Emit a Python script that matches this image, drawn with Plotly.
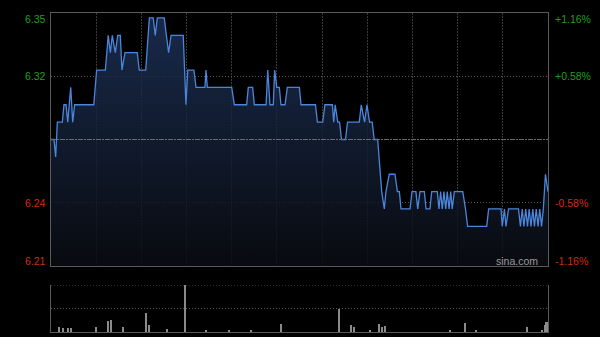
import plotly.graph_objects as go

# ---------------- data ----------------
prev_close = 6.28
pct_levels = [1.16, 0.58, -0.58, -1.16]
price_tick_labels = ["6.35", "6.32", "6.24", "6.21"]
pct_tick_labels = ["+1.16%", "+0.58%", "-0.58%", "-1.16%"]

# minutes since 09:30 (lunch break removed, 330 trading minutes)
minutes = [
    0, 2.0, 3.1, 4.2, 7.5, 8.6, 10.0, 11.1, 13.1, 14.4, 15.7, 28.4, 30.3, 36.1,
    38.0, 39.4, 40.7, 42.7, 44.3, 46.0, 47.1, 49.1, 57.3, 58.6, 62.9, 65.3, 67.9,
    69.2, 70.6, 75.2, 76.6, 78.1, 79.7, 87.8, 89.6, 90.8, 94.9, 96.3, 102.2,
    102.9, 103.8, 120.0, 121.7, 129.9, 131.0, 133.9, 135.0, 142.8, 143.9, 145.4,
    147.6, 148.5, 149.9, 151.6, 152.7, 155.4, 156.9, 164.9, 166.0, 175.6, 176.9,
    180.4, 181.9, 186.8, 187.7, 188.7, 190.4, 191.6, 192.9, 195.5, 196.9, 204.7,
    206.0, 208.2, 209.8, 211.5, 213.3, 214.6, 216.9, 219.6, 221.3, 222.4, 224.6,
    228.4, 230.0, 231.3, 232.4, 238.4, 239.7, 242.3, 243.5, 245.0, 247.9, 249.0,
    251.6, 252.8, 256.5, 257.6, 258.7, 259.8, 260.9, 262.1, 263.1, 264.3, 265.4,
    266.4, 267.8, 273.4, 275.2, 276.6, 289.3, 290.6, 298.8, 299.6, 301.1, 302.1,
    303.8, 310.4, 311.7, 312.9, 314.0, 315.2, 316.4, 317.5, 318.7, 319.9, 321.0,
    322.2, 323.4, 324.5, 325.7, 326.9, 328.3, 330,
]
prices = [
    6.28, 6.28, 6.27, 6.29, 6.29, 6.30, 6.30, 6.29, 6.31, 6.29, 6.30, 6.30, 6.32, 6.32,
    6.34, 6.33, 6.34, 6.33, 6.34, 6.34, 6.32, 6.33, 6.33, 6.32, 6.32, 6.35, 6.35,
    6.34, 6.35, 6.35, 6.34, 6.33, 6.34, 6.34, 6.30, 6.32, 6.32, 6.31, 6.31,
    6.32, 6.31, 6.31, 6.30, 6.30, 6.31, 6.31, 6.30, 6.30, 6.32, 6.30,
    6.30, 6.32, 6.31, 6.31, 6.30, 6.30, 6.31, 6.31, 6.30, 6.30, 6.29,
    6.29, 6.30, 6.30, 6.29, 6.30, 6.29, 6.29, 6.28, 6.28, 6.29, 6.29,
    6.30, 6.29, 6.30, 6.29, 6.29, 6.28, 6.28, 6.25, 6.24, 6.25, 6.26,
    6.26, 6.25, 6.25, 6.24, 6.24, 6.25, 6.25, 6.24, 6.25, 6.25, 6.24,
    6.24, 6.25, 6.25, 6.24, 6.25, 6.24, 6.25, 6.24, 6.25, 6.24, 6.25,
    6.24, 6.25, 6.25, 6.24, 6.23, 6.23, 6.24, 6.24, 6.23, 6.24, 6.23,
    6.24, 6.24, 6.23, 6.24, 6.23, 6.24, 6.23, 6.24, 6.23, 6.24, 6.23,
    6.24, 6.23, 6.24, 6.23, 6.24, 6.26, 6.25,
]
assert len(minutes) == len(prices)

vol_minutes = [5, 8, 11, 13, 30, 38, 40, 48, 63, 65, 77, 89, 103, 118, 133, 153,
               191, 199, 201, 212, 218, 220, 222, 265, 275, 282, 316, 326,
               328, 329, 330]
vol_values = [50, 40, 45, 40, 50, 110, 120, 50, 190, 75, 35, 470, 20, 20, 20, 80,
              230, 70, 55, 20, 80, 50, 65, 20, 95, 20, 50, 20,
              70, 100, 100]

session_minutes = 330
grid_step = 30

# ---------------- derived ----------------
top = prev_close * (1 + pct_levels[0] / 100)
bot = prev_close * (1 + pct_levels[-1] / 100)
levels = [prev_close * (1 + p / 100) for p in pct_levels]
vmax = max(vol_values)

GREEN = "#1f9f1f"
RED = "#d42a0c"
FONT = "Liberation Sans, Arial, sans-serif"

x_dom = [51 / 600, 548 / 600]

fig = go.Figure()

fig.add_trace(go.Scatter(
    x=minutes, y=prices, mode="lines",
    line=dict(color="#4a86dc", width=1.3),
    fill="tozeroy",
    fillgradient=dict(type="vertical", start=bot, stop=top,
                      colorscale=[[0, "rgba(10,12,18,0.85)"], [1, "rgba(30,52,92,0.8)"]]),
    hoverinfo="skip", xaxis="x", yaxis="y",
))

fig.add_trace(go.Bar(
    x=vol_minutes, y=vol_values, width=0.7,
    marker=dict(color="#8a8a8a", line=dict(width=0)),
    xaxis="x2", yaxis="y2", hoverinfo="skip",
))

fig.update_layout(
    width=600, height=337,
    margin=dict(l=0, r=0, t=0, b=0),
    paper_bgcolor="#000000", plot_bgcolor="#000000",
    showlegend=False,
    xaxis=dict(domain=x_dom, range=[0, session_minutes], tick0=0, dtick=grid_step,
               showgrid=True, gridcolor="#3a3a3a", griddash="2px,1px", gridwidth=1,
               showticklabels=False, ticks="", zeroline=False,
               showline=True, linecolor="#5a5a5a", linewidth=1, mirror=True,
               fixedrange=True),
    yaxis=dict(domain=[1 - 266 / 337, 1 - 13 / 337], range=[bot, top],
               tickvals=[levels[1], levels[2]],
               showgrid=True, gridcolor="#5a5a5a", griddash="1px,2px", gridwidth=1,
               showticklabels=False, ticks="", zeroline=False,
               showline=True, linecolor="#5a5a5a", linewidth=1, mirror=True,
               fixedrange=True),
    xaxis2=dict(domain=x_dom, range=[0, session_minutes], anchor="y2",
                showgrid=False, showticklabels=False, ticks="", zeroline=False,
                showline=True, linecolor="#5a5a5a", linewidth=1, fixedrange=True),
    yaxis2=dict(domain=[1 - 332 / 337, 1 - 285 / 337], range=[0, vmax], anchor="x2",
                tickvals=[vmax / 2, vmax],
                showgrid=True, gridcolor="#5a5a5a", griddash="1px,2px", gridwidth=1,
                showticklabels=False, ticks="", zeroline=False,
                showline=True, linecolor="#5a5a5a", linewidth=1, mirror=True,
                fixedrange=True),
    bargap=0,
)

# previous-close midline
fig.add_shape(type="line", xref="x", yref="y", x0=0, x1=session_minutes,
              y0=prev_close, y1=prev_close,
              line=dict(color="#6a6a6a", width=1, dash="5px,1px,2px,1px"))

# volume panel top dotted line (at max)
fig.add_shape(type="line", xref="x2", yref="y2", x0=0, x1=session_minutes,
              y0=vmax, y1=vmax, line=dict(color="#5a5a5a", width=1, dash="1px,2px"))

shifts = [-5.5, 0, 0, 5.5]
for lvl, ptxt, ctxt, pct, sh in zip(levels, price_tick_labels, pct_tick_labels, pct_levels, shifts):
    col = GREEN if pct > 0 else RED
    fig.add_annotation(xref="paper", yref="y", x=48 / 600, y=lvl, yshift=sh,
                       text=ptxt, showarrow=False, xanchor="right", yanchor="middle",
                       font=dict(family=FONT, size=10.5, color=col))
    fig.add_annotation(xref="paper", yref="y", x=553 / 600, y=lvl, yshift=sh,
                       text=ctxt, showarrow=False, xanchor="left", yanchor="middle",
                       font=dict(family=FONT, size=10.5, color=col))

fig.add_annotation(xref="paper", yref="y", x=517 / 600, y=bot, yshift=5.5,
                   text="sina.com", showarrow=False, xanchor="center", yanchor="middle",
                   font=dict(family=FONT, size=10.5, color="#9a9a9a"))

fig.write_html("out.html")
